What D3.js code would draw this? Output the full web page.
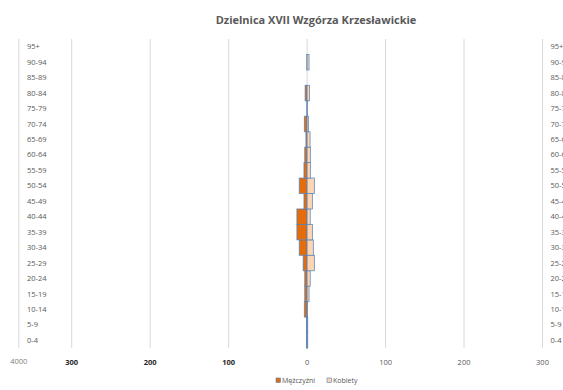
<!DOCTYPE html>
<html>
<head>
<meta charset="utf-8">
<script src="https://cdn.jsdelivr.net/npm/d3@7"></script>
<style>
  body { margin: 0; background: #fff; }
  text { font-family: "Open Sans", "DejaVu Sans", sans-serif; }
</style>
</head>
<body>
<div id="chart"></div>
<script>
var title = "Dzielnica XVII Wzgórza Krzesławickie";

var ages = ["0-4", "5-9", "10-14", "15-19", "20-24", "25-29", "30-34", "35-39", "40-44", "45-49",
            "50-54", "55-59", "60-64", "65-69", "70-74", "75-79", "80-84", "85-89", "90-94", "95+"];
var men   = [0.8, 0.8, 3.5, 3, 3, 5, 10, 13, 13, 4, 10, 4, 3, 1.5, 3.5, 0.3, 2.5, 0, 0.3, 0];
var women = [0.8, 0.8, 0.5, 2.5, 4, 9.3, 8, 6.8, 4, 6.8, 9.3, 4.2, 4.2, 3.8, 1.7, 0.3, 3, 0, 2.5, 0];

var tickValues = [-300, -200, -100, 0, 100, 200, 300];
var edgeLabel = "4000";
var seriesNames = ["Mężczyźni", "Kobiety"];

var width = 563, height = 390;
var svg = d3.select("#chart").append("svg")
  .attr("width", width)
  .attr("height", height);

var x = d3.scaleLinear()
  .domain([-300, 300])
  .range([71.7, 542.5]);

var xLeft = 18.8;   // left edge of plot (axis is cropped there)
var plotTop = 39, plotBottom = 348;

var y = d3.scaleBand()
  .domain(ages.slice().reverse())
  .range([plotTop, plotBottom])
  .padding(0);

// title
svg.append("text")
  .attr("x", 316)
  .attr("y", 24)
  .attr("text-anchor", "middle")
  .style("font-size", "11px")
  .style("font-weight", "bold")
  .style("fill", "#595959")
  .text(title);

// gridlines
svg.append("g").selectAll("line")
  .data(tickValues)
  .enter().append("line")
  .attr("x1", function(d) { return x(d); })
  .attr("x2", function(d) { return x(d); })
  .attr("y1", plotTop)
  .attr("y2", plotBottom)
  .style("stroke", "#d9d9d9")
  .style("stroke-width", 1);

svg.append("line")
  .attr("x1", xLeft).attr("x2", xLeft)
  .attr("y1", plotTop).attr("y2", plotBottom)
  .style("stroke", "#d9d9d9");

// bars
var rows = ages.map(function(a, i) { return {age: a, m: men[i], w: women[i]}; });
var edge = "#4f81bd";

svg.append("g").selectAll("rect")
  .data(rows)
  .enter().append("rect")
  .attr("x", function(d) { return x(-d.m); })
  .attr("y", function(d) { return y(d.age); })
  .attr("width", function(d) { return x(0) - x(-d.m); })
  .attr("height", y.bandwidth())
  .style("fill", "#e46c0a")
  .style("stroke", function(d) { return d.m > 0 ? edge : "none"; })
  .style("stroke-opacity", 0.8)
  .style("stroke-width", 0.9);

svg.append("g").selectAll("rect")
  .data(rows)
  .enter().append("rect")
  .attr("x", x(0))
  .attr("y", function(d) { return y(d.age); })
  .attr("width", function(d) { return x(d.w) - x(0); })
  .attr("height", y.bandwidth())
  .style("fill", "#fcd5b5")
  .style("stroke", function(d) { return d.w > 0 ? edge : "none"; })
  .style("stroke-opacity", 0.8)
  .style("stroke-width", 0.9);

// category labels left and right
svg.append("g").selectAll("text")
  .data(ages)
  .enter().append("text")
  .attr("x", 27)
  .attr("y", function(d) { return y(d) + y.bandwidth() / 2 + 2.6; })
  .style("font-size", "7.5px")
  .style("fill", "#595959")
  .text(function(d) { return d; });

svg.append("g").selectAll("text")
  .data(ages)
  .enter().append("text")
  .attr("x", 550.5)
  .attr("y", function(d) { return y(d) + y.bandwidth() / 2 + 2.6; })
  .style("font-size", "7.5px")
  .style("fill", "#595959")
  .text(function(d) { return d; });

// x tick labels
svg.append("g").selectAll("text")
  .data(tickValues)
  .enter().append("text")
  .attr("x", function(d) { return x(d); })
  .attr("y", 365)
  .attr("text-anchor", "middle")
  .style("font-size", "7.5px")
  .style("fill", function(d) { return d < 0 ? "#262626" : "#595959"; })
  .style("font-weight", function(d) { return d < 0 ? "bold" : "normal"; })
  .text(function(d) { return Math.abs(d); });

svg.append("text")
  .attr("x", xLeft)
  .attr("y", 364)
  .attr("text-anchor", "middle")
  .style("font-size", "7.5px")
  .style("fill", "#7f7f7f")
  .text(edgeLabel);

// legend
var legend = svg.append("g").attr("transform", "translate(276,378)");
var legX = [0, 51];
var legFill = ["#e46c0a", "#fcd5b5"];
seriesNames.forEach(function(name, i) {
  legend.append("rect")
    .attr("x", legX[i])
    .attr("y", 0)
    .attr("width", 4.5)
    .attr("height", 4.5)
    .style("fill", legFill[i])
    .style("stroke", edge)
    .style("stroke-width", 0.6);
  legend.append("text")
    .attr("x", legX[i] + 6)
    .attr("y", 5)
    .style("font-size", "7px")
    .style("fill", "#595959")
    .text(name);
});
</script>
</body>
</html>
